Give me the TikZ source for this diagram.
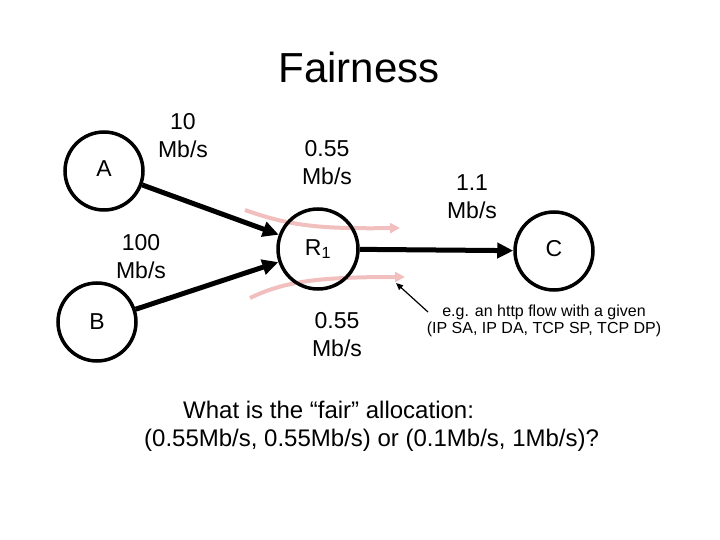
\documentclass[tikz,border=0pt]{standalone}
\usepackage{fontspec}
\setmainfont{Liberation Sans}
\usetikzlibrary{arrows.meta, positioning, backgrounds}
\definecolor{flowPink}{HTML}{F2BFBF}
\tikzset{
  host/.style={draw, circle, line width=3.5pt, minimum size=78pt, inner sep=0pt,
    font=\fontsize{23}{28}\selectfont},
  rate/.style={align=center, font=\fontsize{23}{28}\selectfont},
  link/.style={line width=5pt, -{Triangle[length=16pt,width=15pt]}},
  flow/.style={flowPink, line width=4pt, -{Triangle[length=10pt,width=10pt]}}
}

\begin{document}
\begin{tikzpicture}[x=1pt, y=-1pt]
  \useasboundingbox (0,0) rectangle (720,540);

  % Title
  \node[font=\fontsize{42}{48}\selectfont] (title) at (359,67) {Fairness};

  % Hosts and router
  \node[host] (a) at (104,171) {\raisebox{4pt}{A}};
  \node[host] (b) at (97,322) {B};
  \node[host, minimum size=80pt] (r1) at (318,249) {\raisebox{-4pt}{R\textsubscript{1}}};
  \node[host] (c) at (554,251) {\raisebox{6pt}{C}};

  % Links
  \draw[link] (a) -- (r1);
  \draw[link] (b) -- (r1);
  \draw[link] (r1) -- (c);

  % Rates
  \node[rate] (rateA) at (183,136) {10\\Mb/s};
  \node[rate] (rateB) at (141,257) {100\\Mb/s};
  \node[rate] (shareA) at (327,163) {0.55\\Mb/s};
  \node[rate] (rateC) at (472,197) {1.1\\Mb/s};
  \node[rate] (shareB) at (337,335) {0.55\\Mb/s};

  % Flows through R1
  \begin{scope}[on background layer]
    \coordinate (f1s) at (245,210);
    \coordinate (f1e) at (400,228);
    \coordinate (f2s) at (250,298);
    \coordinate (f2e) at (405,277);
    \draw[flow] (f1s) .. controls (290,226) and (320,229) .. (f1e);
    \draw[flow] (f2s) .. controls (285,281) and (320,277) .. (f2e);
  \end{scope}

  % Flow note
  \node[align=center, font=\fontsize{16}{16.5}\selectfont] (note) at (544,321)
    {e.g. an http flow with a given\\(IP SA, IP DA, TCP SP, TCP DP)};
  \coordinate (noteTail) at (428,312);
  \coordinate (noteTip) at (396,283);
  \draw[line width=1.2pt, -{Triangle[length=7pt,width=6pt]}] (noteTail) -- (noteTip);

  % Question
  \node[anchor=west, font=\fontsize{24}{29}\selectfont, inner sep=0pt] (q1) at (183,410)
    {What is the “fair” allocation:};
  \node[anchor=west, font=\fontsize{24}{29}\selectfont, inner sep=0pt] (q2) at (144,440)
    {(0.55Mb/s, 0.55Mb/s) or (0.1Mb/s, 1Mb/s)?};
\end{tikzpicture}
\end{document}
